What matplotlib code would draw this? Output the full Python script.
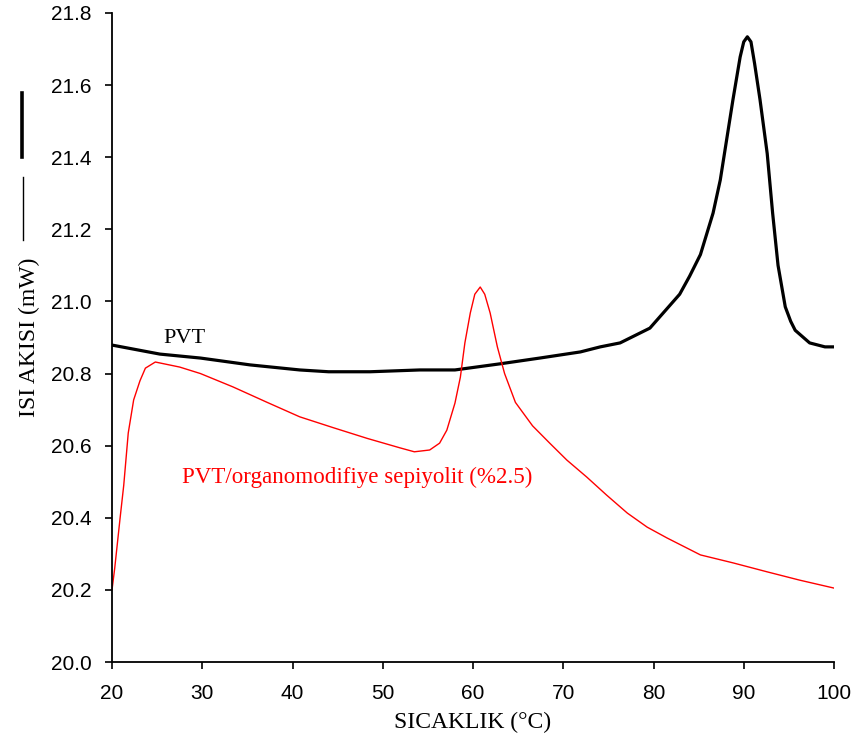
import matplotlib
matplotlib.use("Agg")
import matplotlib.pyplot as plt
from matplotlib.lines import Line2D

# DSC heat-flow curves
pvt_temp = [20, 25.3, 29.8, 35.3, 40.8, 44.0, 48.6, 54.1, 58.0, 63.0, 67.4, 71.9,
            74.1, 76.3, 79.6, 82.9, 84.0, 85.2, 86.6, 87.4, 88.1, 88.8, 89.6,
            90.0, 90.4, 90.8, 91.2, 91.8, 92.6, 93.2, 93.8, 94.6, 95.2, 95.7,
            97.3, 99.0, 100]
pvt_flow = [20.879, 20.854, 20.843, 20.824, 20.810, 20.805, 20.805, 20.810,
            20.810, 20.827, 20.843, 20.860, 20.874, 20.885, 20.926, 21.020,
            21.070, 21.130, 21.245, 21.337, 21.448, 21.559, 21.678, 21.720,
            21.734, 21.720, 21.660, 21.560, 21.410, 21.245, 21.100, 20.985,
            20.945, 20.920, 20.885, 20.874, 20.874]

comp_temp = [20, 20.3, 20.9, 21.3, 21.8, 22.4, 23.1, 23.7, 24.8, 27.5, 29.8, 33.4,
             37.2, 40.8, 44.5, 48.3, 51.9, 53.5, 55.2, 56.3, 57.1, 58.0, 58.6,
             59.1, 59.7, 60.2, 60.8, 61.3, 61.9, 62.7, 63.5, 64.7, 66.6, 68.5,
             70.4, 72.6, 74.8, 77.1, 79.3, 81.5, 85.2, 88.8, 92.6, 96.2, 100]
comp_flow = [20.20, 20.26, 20.40, 20.49, 20.635, 20.727, 20.78, 20.815, 20.832,
             20.818, 20.80, 20.763, 20.72, 20.68, 20.65, 20.62, 20.594, 20.583,
             20.588, 20.607, 20.643, 20.718, 20.79, 20.885, 20.968, 21.02, 21.04,
             21.02, 20.968, 20.874, 20.80, 20.72, 20.655, 20.607, 20.56, 20.513,
             20.463, 20.413, 20.374, 20.344, 20.297, 20.275, 20.25, 20.227, 20.205]

x_ticks = [20, 30, 40, 50, 60, 70, 80, 90, 100]
y_ticks = [20.0, 20.2, 20.4, 20.6, 20.8, 21.0, 21.2, 21.4, 21.6, 21.8]
y_ticklabels = [f"{v:.1f}" for v in y_ticks]

W, H = 859, 744
fig = plt.figure(figsize=(W / 100, H / 100), dpi=100)
ax = fig.add_axes([112 / W, 1 - 662 / H, (834 - 112) / W, (662 - 13) / H])

serif = "Liberation Serif"
sans = "Liberation Sans"

ax.plot(pvt_temp, pvt_flow, color="black", lw=2.3, solid_joinstyle="round")
ax.plot(comp_temp, comp_flow, color="#ff0000", lw=1.0)

ax.set_xlim(20, 100)
ax.set_ylim(20.0, 21.8)
ax.set_xticks(x_ticks)
ax.set_xticklabels([str(v) for v in x_ticks], fontfamily=sans, fontsize=15)
ax.set_yticks(y_ticks)
ax.set_yticklabels(y_ticklabels, fontfamily=sans, fontsize=15)
ax.tick_params(direction="out", length=5, width=1.2, color="black")
ax.tick_params(axis="x", pad=11)
ax.tick_params(axis="y", pad=9.5)

for side in ("top", "right"):
    ax.spines[side].set_visible(False)
for side in ("left", "bottom"):
    ax.spines[side].set_linewidth(1.3)

ax.set_xlabel("SICAKLIK (°C)", fontfamily=serif, fontsize=17)
ax.xaxis.set_label_coords(0.5, -0.077)
ax.set_ylabel("ISI AKISI (mW)", fontfamily=serif, fontsize=17)
ax.yaxis.set_label_coords(-0.1, 0.5)

ax.text(25.65, 20.885, "PVT", fontfamily=serif, fontsize=16,
        color="black", ha="left", va="baseline")
ax.text(27.76, 20.4965, "PVT/organomodifiye sepiyolit (%2.5)", fontfamily=serif,
        fontsize=16.6, color="#ff0000", ha="left", va="baseline")

# line keys drawn alongside the rotated y label
fig.add_artist(Line2D([22 / W, 22 / W], [1 - 93 / H, 1 - 157 / H],
                      transform=fig.transFigure, color="black", lw=2.6))
fig.add_artist(Line2D([23 / W, 23 / W], [1 - 177 / H, 1 - 240 / H],
                      transform=fig.transFigure, color="black", lw=1.0))

fig.savefig("out.png", dpi=100, facecolor="white")
